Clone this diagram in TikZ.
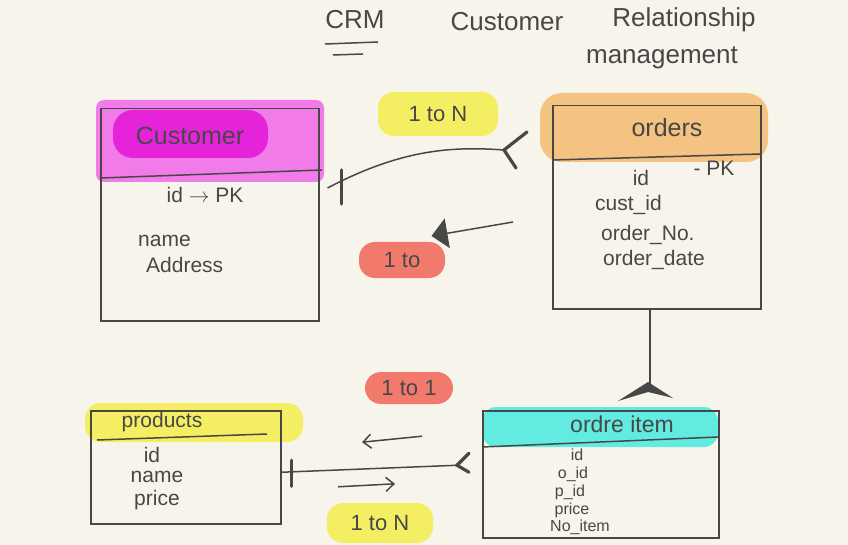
\documentclass[tikz,border=0pt]{standalone}
\usepackage{fontspec}
\setmainfont{Liberation Sans}
\usetikzlibrary{arrows.meta,calc}
\definecolor{bgc}{HTML}{F7F5EB}
\definecolor{ink}{HTML}{474747}
\definecolor{magband}{HTML}{F27BEA}
\definecolor{magdark}{HTML}{E524D9}
\definecolor{orband}{HTML}{F4C281}
\definecolor{yelband}{HTML}{F4EF62}
\definecolor{cyband}{HTML}{62EBE0}
\definecolor{redpill}{HTML}{F17A6C}
\tikzset{
  tbox/.style={draw=ink, line width=1.5pt, anchor=north west, inner sep=0pt},
  hdr/.style={font=\fontsize{25}{30}\selectfont, text=ink},
  attr/.style={font=\fontsize{21}{25}\selectfont, text=ink, inner sep=1pt},
  smattr/.style={font=\fontsize{16}{18}\selectfont, text=ink, inner sep=0pt},
  ttl/.style={font=\fontsize{26}{30}\selectfont, text=ink},
  pill/.style={rounded corners=16pt, inner sep=0pt, font=\fontsize{22}{26}\selectfont, text=ink},
  conn/.style={draw=ink, line width=1.5pt},
  foot/.style={draw=ink, line width=3.2pt, line cap=round}
}
\begin{document}
\begin{tikzpicture}[x=1pt,y=-1pt]
\fill[bgc] (0,0) rectangle (848,545);
\useasboundingbox (0,0) rectangle (848,545);

% title
\node[ttl] (crm) at (355,20) {CRM};
\draw[conn] (325,44) -- (378,42);
\draw[conn] (333,55) -- (363,54);
\node[ttl] (tcust) at (507,22) {Customer};
\node[ttl] (trel) at (684,20) {Relationship};
\node[ttl] (tman) at (662,58) {management};

% customer table
\fill[magband, rounded corners=8pt] (96,100) rectangle (324,182);
\fill[magdark, rounded corners=20pt] (113,110) rectangle (268,158);
\node[tbox, minimum width=218pt, minimum height=212pt] (cust) at (100,108) {};
\draw[conn] (100,178) -- (322,170);
\node[hdr] (custT) at (190,136) {Customer};
\node[attr] (c1) at (205,195) {id $\rightarrow$ PK};
\node[attr, anchor=west] (c2) at (137,241) {name};
\node[attr, anchor=west] (c3) at (145,265) {Address};

% orders table
\fill[orband, rounded corners=22pt] (540,93) rectangle (768,162);
\node[tbox, minimum width=208pt, minimum height=203pt] (ord) at (552,105) {};
\draw[conn] (552,160) -- (760,154);
\node[hdr] (ordT) at (667,128) {orders};
\node[attr] (o1) at (641,178) {id};
\node[attr] (o1b) at (714,168) {- PK};
\node[attr, anchor=west] (o2) at (594,205) {cust\_id};
\node[attr, anchor=west] (o3) at (600,235) {order\_No.};
\node[attr, anchor=west] (o4) at (602,260) {order\_date};

% products table
\fill[yelband, rounded corners=16pt] (85,403) rectangle (303,442);
\node[tbox, minimum width=190pt, minimum height=113pt] (prod) at (90,410) {};
\draw[conn] (97,440) -- (267,434);
\node[hdr, font=\fontsize{21}{25}\selectfont] (prodT) at (162,422) {products};
\node[attr] (p1) at (152,455) {id};
\node[attr] (p2) at (157,477) {name};
\node[attr] (p3) at (157,500) {price};

% order item table
\fill[cyband, rounded corners=14pt] (482,407) rectangle (718,447);
\node[tbox, minimum width=236pt, minimum height=127pt] (oi) at (482,410) {};
\draw[conn] (482,447) -- (718,437);
\node[hdr, font=\fontsize{23}{27}\selectfont] (oiT) at (622,424) {ordre item};
\node[smattr] (i1) at (577,455) {id};
\node[smattr] (i2) at (573,474) {o\_id};
\node[smattr] (i3) at (570,492) {p\_id};
\node[smattr] (i4) at (572,510) {price};
\node[smattr] (i5) at (580,527) {No\_item};

% labels
\node[pill, fill=yelband, minimum width=120pt, minimum height=44pt] (l1) at (438,114) {1 to N};
\node[pill, fill=redpill, minimum width=86pt, minimum height=36pt] (l2) at (402,260) {1 to};
\node[pill, fill=redpill, minimum width=88pt, minimum height=32pt] (l3) at (409,388) {1 to 1};
\node[pill, fill=yelband, minimum width=106pt, minimum height=40pt] (l4) at (380,523) {1 to N};

% connector customer -- orders
\coordinate (a1) at ($(cust.north east)+(8,80)$);
\coordinate (a2) at ($(ord.north west)+(-48,45)$);
\draw[conn] (a1) .. controls (400,150) and (450,146) .. (a2);
\draw[foot] ($(a1)+(14,-18)$) -- ($(a1)+(14,16)$);
\draw[foot] ($(a2)+(23,-18)$) -- (a2) -- ($(a2)+(12,18)$);

% arrow orders -> customer with triangle
\coordinate (b1) at ($(ord.north west)+(-39,117)$);
\coordinate (b2) at ($(cust.north east)+(112,128)$);
\draw[conn, -{Triangle[length=16pt,width=30pt]}] (b1) -- (b2);

% orders -- order item
\coordinate (d1) at (ord.south -| 650,0);
\coordinate (d2) at ($(oi.north west)+(168,-20)$);
\draw[conn] (d1) -- (d2);
\fill[ink] (618,401) -- (648,382) -- (673,398) -- (648,392) -- cycle;

% 1 to 1 arrow
\coordinate (e1) at ($(l3.south)+(13,32)$);
\coordinate (e2) at ($(l3.south)+(-47,38)$);
\draw[conn, -{Straight Barb[length=8pt,width=14pt]}] (e1) -- (e2);

% products -- order item
\coordinate (f1) at ($(prod.east)+(0,5)$);
\coordinate (f2) at ($(oi.west)+(-25,-9)$);
\draw[conn] (f1) -- (f2);
\draw[foot] ($(f1)+(10,-12)$) -- ($(f1)+(10,14)$);
\draw[foot] ($(f2)+(12,-12)$) -- (f2) -- ($(f2)+(12,7)$);

% 1 to N arrow
\coordinate (g1) at ($(l4.north)+(-42,-16)$);
\coordinate (g2) at ($(l4.north)+(15,-19)$);
\draw[conn, -{Straight Barb[length=8pt,width=14pt]}] (g1) -- (g2);
\end{tikzpicture}
\end{document}
